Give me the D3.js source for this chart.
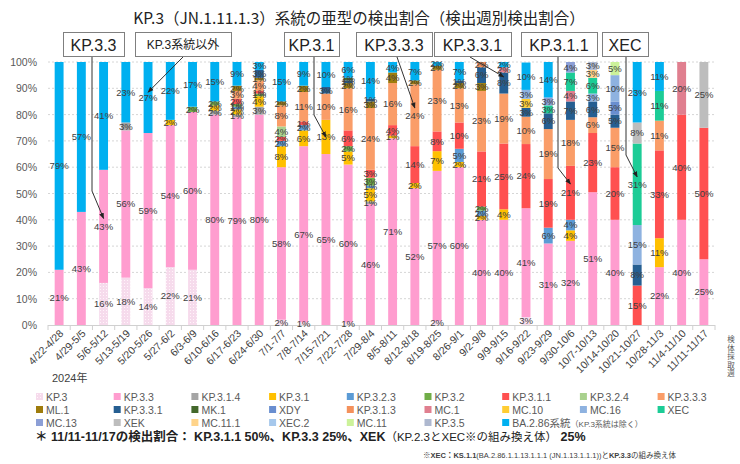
<!DOCTYPE html>
<html><head><meta charset="utf-8">
<script src="https://cdn.jsdelivr.net/npm/d3@7"></script>
<style>body{margin:0;background:#fff}svg{display:block}</style>
</head><body><svg id="c" width="740" height="464"></svg>
<script>
const weeks = ["4/22-4/28","4/29-5/5","5/6-5/12","5/13-5/19","5/20-5/26","5/27-6/2","6/3-6/9","6/10-6/16","6/17-6/23","6/24-6/30",
"7/1-7/7","7/8-7/14","7/15-7/21","7/22-7/28","7/29-8/4","8/5-8/11","8/12-8/18","8/19-8/25","8/26-9/1","9/2-9/8",
"9/9-9/15","9/16-9/22","9/23-9/29","9/30-10/6","10/7-10/13","10/14-10/20","10/21-10/27","10/28-11/3","11/4-11/10","11/11-11/17"];
const yTicks = [0,10,20,30,40,50,60,70,80,90,100];

const KP3   = [0,0,16,18,14,22,21,0,0,0, 2,1,0,1,0,0,0,1.5,0,0, 0,3,0,0,0,0,0,0,0,0];
const KP33  = [21,43,43,56,59,54,60,80,79,80, 58,67,65,60,46,71,52,57.1,60,40, 40,41.4,31,32,50.5,40,0,22,40,25];
const KP314 = [0,0,0,3,0,0,0,1.5,1,3, 0,0,0,0,1,0,0,0,0,0, 0,0,0,0,0,0,0,0,0,0];
const KP31  = [0,0,0,0,0,2,0,2,2,4, 8,6,13,5,5,1,2,7.5,2,1.5, 4,0,0,4,0,0,0,11,0,0];
const KP323 = [0,0,0,0,0,0,0,0,1,0, 2,2,0,0,1,0,0,0,5,2, 0,0,6,4,0,0,0,0,0,0];
const KP32  = [0,0,0,0,0,0,2,1.5,1,1, 0,0,0,2,3,0,0,0,0,1.5, 0,0,0,0,0,0,0,0,0,0];
const KP311 = [0,0,0,0,0,0,0,0,2,1, 1.5,1.4,0,6,3,4,14,7.5,10,21, 25,24.4,18.5,20.5,22.5,20,15,33.4,40,50];
const KP324 = [0,0,0,0,0,0,0,0,0,0, 4,0,0,0,0,0,0,0,0,0, 0,0,0,0,0,0,0,0,0,0];
const KP333 = [0,0,0,0,0,0,0,0,3,4, 8,11.2,10,16,23.5,16,23.5,23.4,13,23, 19,10.4,19,17.5,6,15,0,11.3,0,0];
const ML1   = [0,0,0,0,0,0,0,0,2,1, 1.5,2.4,0,2,2.5,4,1.5,1.5,2,3, 0,0,0,0,0,0,0,0,0,0];
const KP331 = [0,0,0,0,0,0,0,0,0,3, 0,0,2.5,1,1,0,0,0,1,6, 8,3.4,6,7,6,5,8,0,0,0];
const MK1   = [0,0,0,0,0,0,0,0,0,0, 0,0,0,1,0,0,0,0,0,0, 0,0,0,0,0,0,0,0,0,0];
const XDY   = [0,0,0,0,0,0,0,0,0,0, 0,0,0,0,0,0,0,0,0,0, 0,0,0,0,0,5,0,0,0,0];
const KP313 = [0,0,0,0,0,0,0,0,0,0, 0,0,0,0,0,0,0,0,0,2, 0,0,0,0,0,0,0,0,0,0];
const MC1   = [0,0,0,0,0,0,0,0,0,0, 0,0,0,0,0,0,0,0,0,0, 2,0,0,4,0,0,0,0,20,0];
const MC10  = [0,0,0,0,0,0,0,0,0,0, 0,0,0,0,0,0,0,0,0,0, 0,3.4,0,0,0,0,0,0,0,0];
const MC16  = [0,0,0,0,0,0,0,0,0,0, 0,0,0,0,0,0,0,0,0,0, 0,3.4,0,0,3,10,15,0,0,0];
const XEC   = [0,0,0,0,0,0,0,0,0,0, 0,0,0,0,0,0,0,0,0,0, 0,0,3,7,6,0,31,11.3,0,0];
const MC13  = [0,0,0,0,0,0,0,0,0,0, 0,0,0,0,0,0,0,0,0,0, 0,0,3,4,0,0,0,0,0,0];
const XEK   = [0,0,0,0,0,0,0,0,0,0, 0,0,0,0,0,0,0,0,0,0, 0,0,0,0,0,0,8,0,0,25];
const MC111 = [0,0,0,0,0,0,0,0,0,0, 0,0,0,0,0,0,0,0,0,0, 0,0,0,0,3,0,0,0,0,0];
const XEC2  = [0,0,0,0,0,0,0,0,0,0, 0,0,0,0,0,0,0,0,0,0, 0,0,0,0,0,0,0,0,0,0];
const MC11  = [0,0,0,0,0,0,0,0,0,0, 0,0,0,0,0,0,0,0,0,0, 0,0,0,0,0,5,0,0,0,0];
const KP35  = [0,0,0,0,0,0,0,0,0,0, 0,0,0,0,0,0,0,0,0,0, 0,0,0,0,3,0,0,0,0,0];
const BA286 = [79,57,41,23,27,22,17,15,9,3, 15,9,9.5,6,14,4,7,1.5,7,0, 2,10.4,13.5,0,0,0,23,11,0,0];

const seriesNames = ["KP.3","KP.3.3","KP.3.1.4","KP.3.1","KP.3.2.3","KP.3.2","KP.3.1.1","KP.3.2.4","KP.3.3.3",
 "ML.1","KP.3.3.1","MK.1","XDY","KP.3.1.3","MC.1","MC.10","MC.16","XEC",
 "MC.13","XEK","MC.11.1","XEC.2","MC.11","KP.3.5","BA.2.86系統"];
const seriesValues = [KP3,KP33,KP314,KP31,KP323,KP32,KP311,KP324,KP333,ML1,KP331,MK1,XDY,KP313,MC1,MC10,MC16,XEC,MC13,XEK,MC111,XEC2,MC11,KP35,BA286];
const seriesColors = ["url(#dotPink)","#ff9dcf","#a5a5a5","#ffc000","#5b9bd5","#70ad47","#ff5050","#a9d18e","#fa9d68",
 "#9e7c0c","#255e91","#43682b","#698ed0","#f4915c","#e07f8f","#ffcd33","#8eb2e0","#1ccc96",
 "#8c9fd6","#bdbdbd","#ffd48a","#a6c8ec","#ccf29a","#aeb8cf","#00b0f0"];

const svg = d3.select("#c");
const defs = svg.append("defs");
const pat = defs.append("pattern").attr("id","dotPink").attr("width",3).attr("height",3).attr("patternUnits","userSpaceOnUse");
pat.append("rect").attr("width",3).attr("height",3).attr("fill","#f6dbec");
pat.append("rect").attr("x",1).attr("y",1).attr("width",1).attr("height",1).attr("fill","#fff4fa");
const mk = defs.append("marker").attr("id","arr").attr("viewBox","0 0 10 10").attr("refX",9).attr("refY",5)
  .attr("markerWidth",6).attr("markerHeight",6).attr("orient","auto");
mk.append("path").attr("d","M0,1L10,5L0,9Z").attr("fill","#222");

const x = d3.scaleBand().domain(weeks).range([48,715]).paddingInner(0.6).paddingOuter(0.3);
const y = d3.scaleLinear().domain([0,100]).range([325,62]);

// grid
svg.append("g").selectAll("line").data(yTicks.filter(d=>d>0)).join("line")
  .attr("x1",48).attr("x2",715).attr("y1",d=>y(d)).attr("y2",d=>y(d))
  .attr("stroke","#d6d6d6").attr("stroke-width",1).attr("stroke-dasharray","2,2");
// y labels
svg.append("g").selectAll("text").data(yTicks).join("text")
  .attr("x",37).attr("y",d=>y(d)+4).attr("text-anchor","end")
  .attr("font-family","Liberation Sans, Arial, sans-serif").attr("font-size",10.5).attr("fill","#595959")
  .text(d=>d+"%");

// stack
const table = weeks.map((w,i)=>{const o={week:w}; seriesNames.forEach((n,k)=>o[n]=seriesValues[k][i]); return o;});
const stack = d3.stack().keys(seriesNames)(table);
const gBars = svg.append("g");
stack.forEach((layer,k)=>{
  gBars.append("g").attr("fill",seriesColors[k]).selectAll("rect").data(layer.filter(d=>d[1]-d[0]>0)).join("rect")
    .attr("x",d=>x(d.data.week)).attr("width",x.bandwidth())
    .attr("y",d=>y(d[1])).attr("height",d=>y(d[0])-y(d[1]));
});
// axis baseline + ticks
svg.append("line").attr("x1",48).attr("x2",715).attr("y1",325.5).attr("y2",325.5).attr("stroke","#d0d0d0");
const bounds = weeks.map(w=>x(w)-x.step()*x.paddingInner()/2 ).concat([715]);
svg.append("g").selectAll("line").data(bounds).join("line")
  .attr("x1",d=>d).attr("x2",d=>d).attr("y1",325).attr("y2",330).attr("stroke","#d0d0d0");
// labels
const gLab = svg.append("g").attr("font-family","Liberation Sans, Arial, sans-serif").attr("font-size",9.5).attr("fill","#404040").attr("text-anchor","middle");
stack.forEach((layer,k)=>{
  gLab.append("g").selectAll("text").data(layer.filter(d=>d[1]-d[0]>0)).join("text")
    .attr("x",d=>x(d.data.week)+x.bandwidth()/2).attr("y",d=>(y(d[0])+y(d[1]))/2+3.3)
    .text(d=>Math.round(d[1]-d[0])+"%");
});
// x labels
svg.append("g").selectAll("text").data(weeks).join("text")
  .attr("transform",d=>`translate(${x(d)+x.bandwidth()/2+5},334) rotate(-45)`)
  .attr("text-anchor","end").attr("font-family","Liberation Sans, Arial, sans-serif").attr("font-size",10.5).attr("fill","#404040")
  .text(d=>d);
svg.append("text").attr("x",52).attr("y",382).attr("font-family","Liberation Sans, Noto Sans CJK JP, sans-serif").attr("font-size",11).attr("fill","#404040").text("2024年");
// right vertical text
svg.append("g").selectAll("text").data(Array.from("検体採取週")).join("text")
  .attr("x",731).attr("y",(d,i)=>342+i*8.5).attr("text-anchor","middle")
  .attr("font-family","Noto Sans CJK JP").attr("font-size",7.5).attr("fill","#595959").text(d=>d);

// title
svg.append("text").attr("x",359).attr("y",24).attr("text-anchor","middle")
  .attr("font-family","Noto Sans CJK JP, sans-serif").attr("font-size",15.5).attr("fill","#222")
  .text("KP.3（JN.1.11.1.3）系統の亜型の検出割合（検出週別検出割合）");

// annotations
const annBoxes = [
 {t:"KP.3.3", x0:63, x1:124, fs:16, path:[[92,57],[92,191]], bar:2, v:40.5},
 {t:"KP.3系統以外", x0:135, x1:231, fs:12, path:[[183,57]], bar:4, v:88.5},
 {t:"KP.3.1", x0:284, x1:339, fs:16, path:[[314,57],[314,115]], bar:12, v:71.5},
 {t:"KP.3.3.3", x0:356, x1:432, fs:16, path:[[397,57]], bar:16, v:82.5},
 {t:"KP.3.3.1", x0:434, x1:511, fs:16, path:[[470,57]], bar:20, v:94.3},
 {t:"KP.3.1.1", x0:521, x1:597, fs:16, path:[[558,57],[558,168]], bar:23, v:53.6},
 {t:"XEC", x0:602, x1:648, fs:16, path:[[626,57],[626,155]], bar:26, v:56.3}
];
const gA = svg.append("g");
annBoxes.forEach(a=>{
  const pts = a.path.concat([[x(weeks[a.bar])+x.bandwidth()/2, y(a.v)]]);
  gA.append("path").attr("d",d3.line()(pts)).attr("fill","none").attr("stroke","#333").attr("stroke-width",1).attr("marker-end","url(#arr)");
  gA.append("rect").attr("x",a.x0+0.5).attr("y",32.5).attr("width",a.x1-a.x0).attr("height",24)
    .attr("fill","#fff").attr("stroke","#7f7f7f");
  gA.append("text").attr("x",(a.x0+a.x1)/2).attr("y",a.fs>13?51:49).attr("text-anchor","middle")
    .attr("font-family","Liberation Sans, Noto Sans CJK JP, sans-serif").attr("font-size",a.fs).attr("fill","#222").text(a.t);
});

// legend
const gL = svg.append("g").attr("font-family","Liberation Sans, Noto Sans CJK JP, sans-serif").attr("font-size",10.5).attr("fill","#595959");
seriesNames.forEach((n,k)=>{
  const col = k%9, row = Math.floor(k/9);
  const lx = 36 + col*77.7, ly = 397 + row*13;
  gL.append("rect").attr("x",lx).attr("y",ly-4).attr("width",7).attr("height",7).attr("fill",seriesColors[k]);
  const t = gL.append("text").attr("x",lx+10).attr("y",ly+3.5);
  t.append("tspan").text(n);
  if(n==="BA.2.86系統") t.append("tspan").attr("font-size",8).text("（KP.3系統は除く）");
});

// footnotes
const fn = svg.append("text").attr("x",35).attr("y",441).attr("font-family","Liberation Sans, Noto Sans CJK JP, sans-serif").attr("font-size",12.5).attr("fill","#222");
fn.append("tspan").attr("font-weight","bold").text("＊ 11/11-11/17の検出割合： KP.3.1.1 50%、KP.3.3 25%、XEK");
fn.append("tspan").attr("font-size",11.5).text("（KP.2.3とXEC※の組み換え体）");
fn.append("tspan").attr("font-weight","bold").text(" 25%");
const n2 = svg.append("text").attr("x",423).attr("y",458).attr("font-family","Liberation Sans, Noto Sans CJK JP, sans-serif").attr("font-size",7.5).attr("fill","#404040");
n2.append("tspan").text("※");
n2.append("tspan").attr("font-weight","bold").text("XEC：KS.1.1");
n2.append("tspan").text("(BA.2.86.1.1.13.1.1.1 (JN.1.13.1.1.1))と");
n2.append("tspan").attr("font-weight","bold").text("KP.3.3");
n2.append("tspan").text("の組み換え体");
</script></body></html>
